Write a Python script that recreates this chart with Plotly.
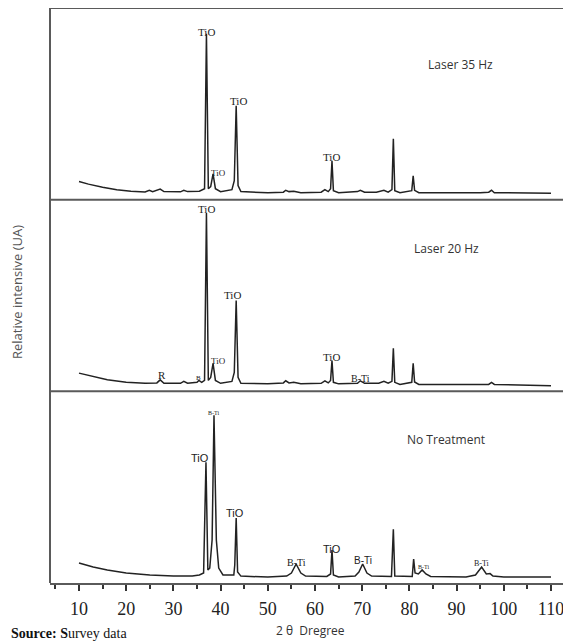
import plotly.graph_objects as go

# ---------------- data (2θ in degrees, intensity in arbitrary units 0-100 per panel) -------------
tt_35 = [10, 12, 15, 18, 21, 24, 24.9, 25.6, 27.2, 28, 31.5, 32.2, 33, 35.5, 36.6, 37.0, 37.4,
         37.9, 38.4, 38.9, 40, 42.4, 42.9, 43.3, 43.7, 44.3, 50, 53.3, 53.8, 54.5, 55.5, 57,
         61.3, 62.1, 62.8, 63.3, 63.6, 63.9, 65, 69, 69.6, 70.5, 73, 74.6, 75.5, 76.3, 76.6,
         76.9, 78, 80.5, 80.8, 81.1, 82, 90, 95, 96.8, 97.4, 98, 104, 110]
int_35 = [9.5, 8.1, 6.5, 5.2, 4.4, 4.0, 4.9, 4.2, 5.5, 4.2, 4.1, 4.9, 4.2, 4.4, 5.7, 86.5, 5.7,
          6.8, 13.5, 5.7, 4.2, 5.2, 9.9, 49.0, 7.3, 4.2, 3.6, 3.9, 4.9, 4.2, 4.4, 3.6,
          3.9, 5.2, 4.2, 5.7, 20.3, 4.7, 3.6, 4.2, 4.9, 3.9, 3.9, 4.9, 3.9, 5.2, 31.8,
          4.7, 3.6, 4.7, 12.5, 4.9, 3.6, 3.4, 3.6, 3.9, 4.9, 3.6, 3.6, 3.4]

tt_20 = [10, 13, 16, 20, 24, 26.5, 27.2, 28, 31.5, 32.2, 33, 35, 35.4, 36.0, 36.6, 37.0, 37.4,
         37.9, 38.4, 38.9, 40, 42.4, 42.9, 43.3, 43.7, 44.3, 50, 53.3, 53.8, 54.5, 55.5, 57,
         61.3, 62.1, 62.8, 63.3, 63.6, 63.9, 65, 69, 69.6, 70.5, 73.5, 74.6, 75.5, 76.3, 76.6,
         76.9, 78, 80.5, 80.8, 81.1, 82, 96.8, 97.4, 98, 110]
int_20 = [9.5, 7.6, 6.0, 4.7, 4.2, 4.4, 6.0, 4.2, 4.2, 5.2, 4.2, 4.7, 5.7, 4.7, 5.7, 93.0, 5.7,
          7.3, 14.6, 5.7, 4.2, 5.2, 9.9, 47.4, 7.3, 4.2, 3.9, 4.4, 5.5, 4.4, 4.7, 3.9,
          4.2, 5.5, 4.4, 5.7, 16.1, 4.7, 3.9, 4.2, 5.5, 4.2, 4.2, 5.2, 4.2, 5.2, 22.4,
          4.7, 3.6, 4.7, 14.6, 4.9, 3.6, 3.6, 4.7, 3.6, 2.9]

tt_nt = [10, 13, 16, 20, 25, 30, 34, 35.5, 36.4, 36.9, 37.3, 37.7, 38.2, 38.6, 39.1, 39.6,
         40.5, 42.8, 43.0, 43.3, 43.6, 44.3, 50, 54, 55, 56.0, 57, 58, 62.5, 63.3, 63.6, 63.9,
         65, 68.5, 69.3, 70.1, 71, 72, 76.2, 76.6, 76.9, 80.6, 80.9, 81.2, 81.9, 82.7, 83.5,
         84.5, 92, 94, 95.3, 96.3, 97.1, 97.7, 100, 110]
int_nt = [10.4, 8.3, 6.8, 5.2, 4.2, 3.6, 3.6, 4.2, 5.2, 63.0, 6.8, 7.8, 22.4, 87.5, 22.4, 7.8,
          4.2, 4.2, 9.4, 33.9, 5.7, 3.6, 3.1, 3.6, 5.2, 9.9, 5.2, 3.6, 3.4, 4.7, 17.2, 4.2,
          3.1, 3.6, 5.7, 9.9, 5.2, 3.6, 3.4, 28.0, 3.6, 3.4, 12.5, 5.2, 4.7, 6.8, 4.7,
          3.4, 3.1, 4.2, 8.3, 4.7, 4.9, 3.6, 3.1, 3.1]

panel_titles = ["Laser 35 Hz", "Laser 20 Hz", "No Treatment"]
title_pos = [(90.9, 70.3), (87.8, 74.5), (87.8, 75.0)]

# peak labels: (text, 2θ, intensity, font size, family)
labels_35 = [("TiO", 37.0, 87.5, 11, "serif"), ("TiO", 39.55, 14.1, 9, "serif"),
             ("TiO", 43.8, 51.6, 11, "serif"), ("TiO", 63.6, 22.4, 11, "serif")]
labels_20 = [("TiO", 37.0, 95.3, 11, "serif"), ("TiO", 39.55, 15.6, 9, "serif"),
             ("TiO", 42.6, 50.0, 11, "serif"), ("TiO", 63.6, 17.7, 11, "serif"),
             ("R", 27.6, 8.3, 11, "serif"), ("B", 35.3, 6.8, 7, "serif"),
             ("B-Ti", 69.6, 6.8, 10, "serif")]
labels_nt = [("TiO", 35.7, 65.1, 11, "sans"), ("B-Ti", 38.6, 88.5, 6, "serif"),
             ("TiO", 43.0, 36.5, 11, "sans"), ("B-Ti", 56.0, 10.9, 10, "serif"),
             ("TiO", 63.6, 17.7, 11, "sans"), ("B-Ti", 70.2, 11.5, 10, "sans"),
             ("B-Ti", 83.0, 8.3, 6, "serif"), ("B-Ti", 95.3, 10.4, 8, "serif")]

x_ticks = [10, 20, 30, 40, 50, 60, 70, 80, 90, 100, 110]

# ---------------- figure ----------------
OFF = 8                      # page body margin
W, H = 571 - OFF, 643 - OFF  # figure size
ML, MT, MB = 50 - OFF, 0, 60
plot_w = W - ML
plot_h = H - MT - MB


def px_x(page_x):
    return (page_x - OFF - ML) / plot_w


def px_y(page_y):
    return (H - MB - (page_y - OFF)) / plot_h


fig = go.Figure()
line_col = "#222222"
SERIF = "Liberation Serif, Times New Roman, serif"
SANS = "Open Sans, Liberation Sans, sans-serif"
fam = {"serif": SERIF, "sans": "Liberation Sans, Arial, sans-serif"}

panels = [(tt_35, int_35, "y3", labels_35), (tt_20, int_20, "y2", labels_20),
          (tt_nt, int_nt, "y", labels_nt)]
ann = []
for i, (xs, ys, yax, labs) in enumerate(panels):
    fig.add_trace(go.Scatter(x=xs, y=ys, mode="lines", yaxis=yax, xaxis="x",
                             line=dict(color=line_col, width=1.5), showlegend=False,
                             hoverinfo="skip"))
    for t, lx, ly, fs, ff in labs:
        ann.append(dict(x=lx, y=ly, xref="x", yref=yax, text=t, showarrow=False,
                        font=dict(family=fam[ff], size=fs, color="#222"),
                        xanchor="center", yanchor="middle"))
    tx, ty = title_pos[i]
    ann.append(dict(x=tx, y=ty, xref="x", yref=yax, text=panel_titles[i], showarrow=False,
                    font=dict(family=SANS, size=12, color="#333"),
                    xanchor="center", yanchor="middle"))

ann.append(dict(x=px_x(310), y=px_y(630), xref="paper", yref="paper", text="2 θ  Dregree",
                showarrow=False, font=dict(family=SANS, size=12, color="#333"),
                xanchor="center", yanchor="middle"))
ann.append(dict(x=px_x(17), y=px_y(292), xref="paper", yref="paper",
                text="Relative intensive (UA)", showarrow=False, textangle=-90,
                font=dict(family=SANS, size=13, color="#555"),
                xanchor="center", yanchor="middle"))
ann.append(dict(x=px_x(OFF + 1), y=px_y(633), xref="paper", yref="paper",
                text="<b>Source:</b> <b>S</b>urvey data", showarrow=False,
                font=dict(family=SERIF, size=14, color="#111"),
                xanchor="left", yanchor="middle"))

frame = "#5a5a5a"
shapes = []
for yy in [1 / 3, 2 / 3, 1.0]:
    shapes.append(dict(type="line", xref="paper", yref="paper", x0=0, x1=1, y0=yy, y1=yy,
                       line=dict(color=frame, width=2)))
shapes.append(dict(type="line", xref="paper", yref="paper", x0=0, x1=0, y0=0, y1=1,
                   line=dict(color=frame, width=2)))

# x range so that 10 -> page px 79 and 110 -> page px 551
ppd = (551 - 79) / 100.0
x0 = 10 - (79 - 50) / ppd
x1 = 110 + (571 - 551) / ppd

fig.update_layout(
    width=W, height=H, margin=dict(l=ML, r=0, t=MT, b=MB),
    paper_bgcolor="white", plot_bgcolor="white",
    font=dict(family=SERIF, color="#222"),
    xaxis=dict(range=[x0, x1], tickvals=x_ticks, ticks="outside", ticklen=6, tickwidth=1.5,
               tickcolor="#333", showline=True, linecolor=frame, linewidth=2,
               showgrid=False, zeroline=False, anchor="y", ticklabelstandoff=2,
               tickfont=dict(family=SERIF, size=18, color="#222"),
               minor=dict(dtick=5, tick0=0, ticks="outside", ticklen=4, tickcolor="#333",
                          showgrid=False)),
    yaxis=dict(domain=[0, 1 / 3], range=[0, 100], visible=False),
    yaxis2=dict(domain=[1 / 3, 2 / 3], range=[0, 100], visible=False),
    yaxis3=dict(domain=[2 / 3, 1], range=[0, 100], visible=False),
    annotations=ann, shapes=shapes,
)

fig.write_html("out.html")
